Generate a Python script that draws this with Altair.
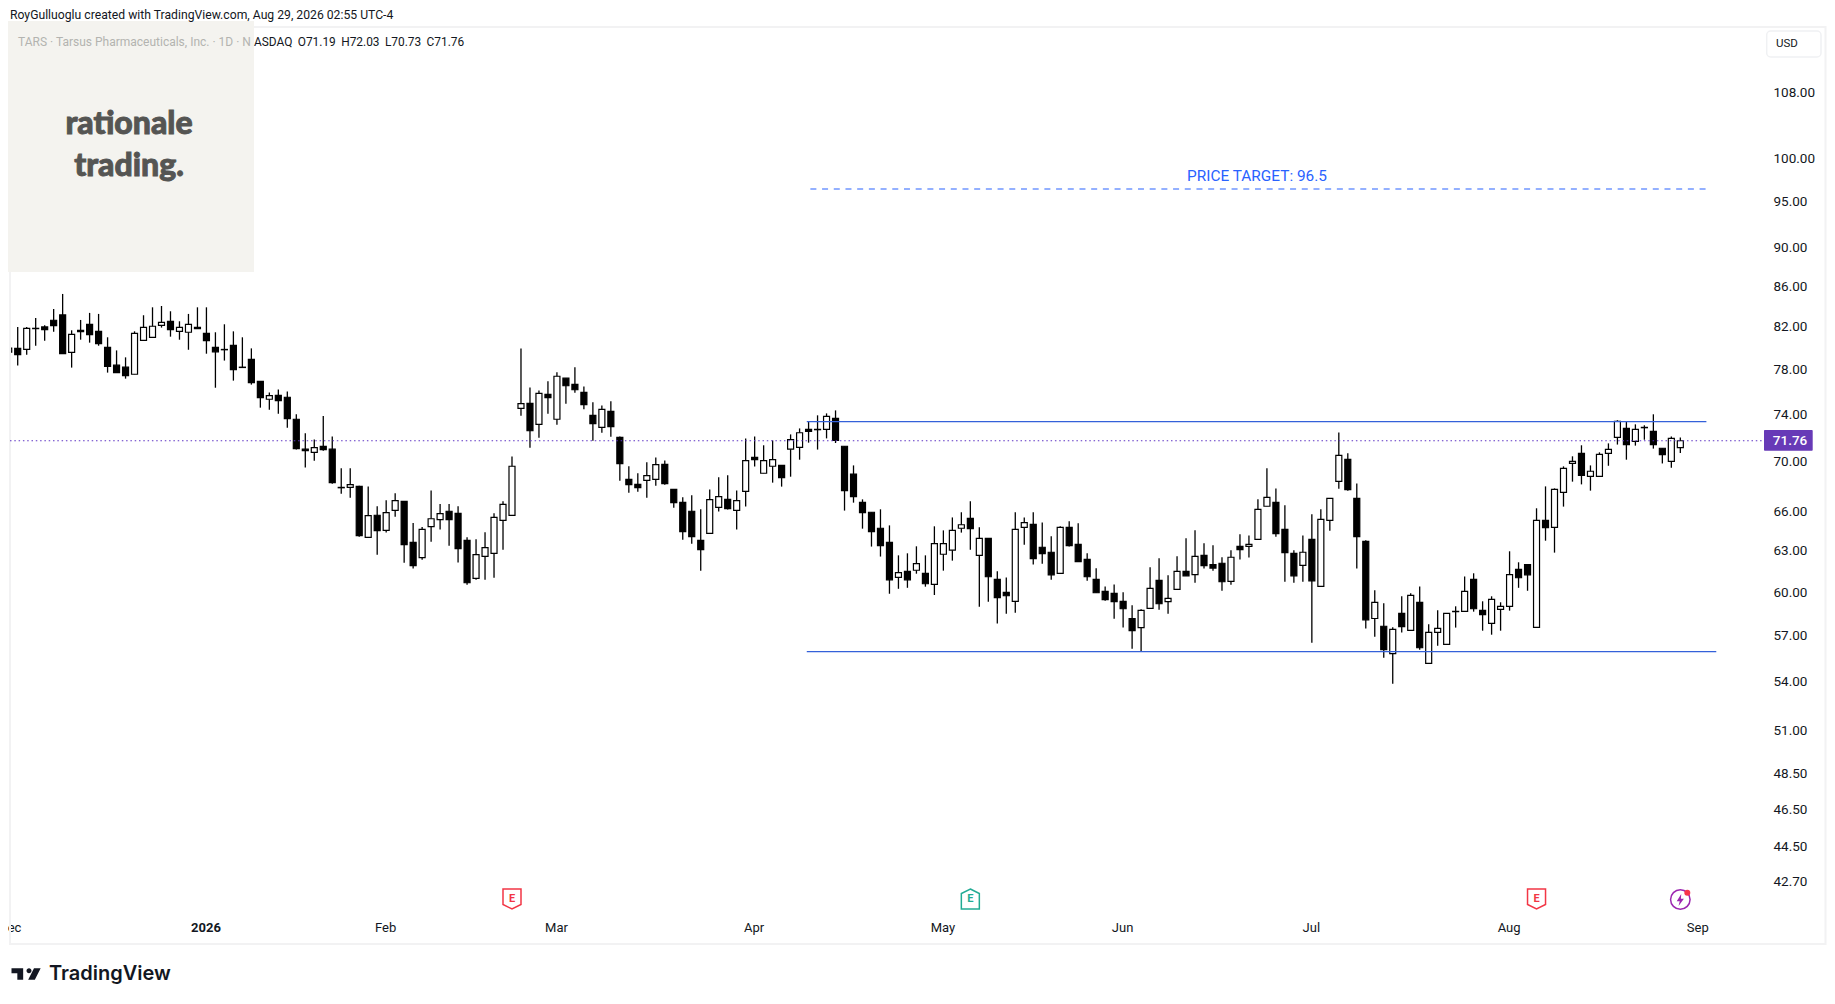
import altair as alt
import pandas as pd

sessions = list(range(-1, 186))
opens = [79.65,
 80.00,79.90,81.91,82.04,82.69,83.21,79.62,81.72,82.30,81.62,
 80.09,78.43,78.25,77.60,80.76,81.05,82.20,82.59,81.62,81.53,
 82.01,81.43,80.09,79.90,80.28,78.25,78.98,76.96,75.35,75.70,
 75.53,73.60,71.05,70.79,71.29,71.05,67.93,67.93,68.01,64.05,
 65.74,64.58,66.12,66.82,63.68,62.54,64.86,65.40,66.05,65.89,
 63.83,61.03,62.64,62.86,65.35,65.73,74.55,74.99,73.16,75.79,
 73.60,77.24,76.68,75.96,73.94,72.90,74.28,72.05,68.57,68.17,
 68.49,68.57,69.80,67.77,66.75,66.05,63.83,64.35,66.35,66.98,
 66.12,67.61,70.37,69.07,69.64,69.72,71.05,71.21,72.73,72.73,
 72.73,73.68,71.30,69.00,66.75,65.97,64.74,63.68,61.10,61.54,
 61.62,61.40,60.60,62.79,63.09,64.74,65.50,62.71,63.98,60.96,
 60.04,59.41,64.81,65.04,63.31,62.94,61.40,64.81,63.53,62.42,
 60.96,60.11,59.97,59.41,58.22,57.60,58.92,60.89,59.38,60.25,
 61.54,61.31,62.71,62.03,62.13,60.82,63.38,63.38,63.90,66.44,
 66.75,64.66,62.86,61.97,63.90,60.46,65.35,68.41,70.20,67.06,
 63.75,58.22,57.69,55.86,58.57,57.41,59.34,55.23,57.28,56.48,
 58.71,58.71,60.96,58.78,57.89,58.85,59.06,61.69,62.03,57.62,
 65.35,64.81,67.54,69.88,70.71,68.82,68.82,70.71,72.05,72.81,
 71.71,72.90,72.56,71.13,70.04,71.19]
highs = [80.10,
 82.04,82.04,82.92,82.20,83.80,85.29,81.72,82.72,83.41,83.31,
 81.05,79.81,79.16,81.62,83.18,83.96,84.09,83.57,82.59,83.31,
 83.96,83.96,81.53,82.30,81.62,81.05,80.00,76.96,75.96,76.23,
 76.05,74.03,72.39,71.87,73.88,72.13,69.47,69.47,68.07,68.01,
 66.43,66.90,67.46,66.82,65.14,64.84,67.69,66.62,66.62,66.44,
 64.05,63.90,64.43,65.89,66.83,70.45,80.00,76.41,76.14,76.96,
 77.79,77.24,78.25,76.50,75.08,74.81,75.17,72.13,69.64,69.07,
 69.96,70.37,70.12,67.77,67.14,67.30,66.20,67.77,68.74,68.90,
 67.69,71.96,72.13,71.38,71.79,69.72,72.30,72.81,73.39,73.94,
 74.11,74.37,71.30,69.71,66.98,65.97,66.20,64.96,62.71,62.86,
 63.38,62.71,64.89,64.58,65.57,65.97,66.83,64.81,63.98,61.54,
 61.10,65.97,65.57,65.97,65.19,64.13,64.89,65.27,65.12,62.86,
 61.76,60.46,60.60,60.04,59.13,58.85,61.83,62.50,61.25,62.64,
 63.98,64.58,63.60,63.45,62.57,63.09,64.28,64.20,66.98,69.47,
 67.85,66.51,63.09,64.20,65.81,66.20,67.06,72.46,70.71,68.25,
 63.83,60.18,59.27,57.62,59.76,59.97,60.46,57.82,58.78,58.57,
 59.06,61.17,61.40,59.41,59.76,59.34,63.01,62.20,62.03,66.28,
 68.01,67.85,69.63,70.46,71.38,69.71,70.79,71.54,73.51,73.42,
 73.16,73.08,74.03,71.13,72.13,72.03]
lows = [79.60,
 78.40,79.41,80.25,80.73,81.59,79.50,78.21,80.82,80.54,80.25,
 77.75,77.75,77.20,77.60,80.76,81.05,81.98,81.11,80.82,79.87,
 81.88,79.50,76.38,78.86,77.02,78.22,76.66,74.61,74.43,74.08,
 72.87,71.02,69.53,70.10,70.93,68.23,67.43,67.11,64.10,64.05,
 62.76,64.41,65.63,62.17,61.74,62.39,63.73,64.64,63.43,62.18,
 60.58,60.93,60.93,61.08,63.13,65.73,73.91,71.18,72.02,74.08,
 73.13,74.96,75.93,74.46,71.76,72.44,72.10,68.47,67.51,67.59,
 67.11,68.07,68.15,66.33,63.88,63.58,61.59,64.35,66.02,66.18,
 64.64,66.41,69.61,69.07,68.31,67.99,68.79,70.18,71.60,71.02,
 71.96,71.57,66.10,66.72,64.71,63.36,62.62,59.94,60.29,60.36,
 61.37,60.44,59.85,61.59,62.32,64.41,63.13,59.03,59.38,57.88,
 58.55,58.62,63.50,62.03,62.10,60.93,61.40,63.36,62.25,60.86,
 60.01,59.45,58.20,57.60,56.19,56.00,58.92,58.82,58.55,60.25,
 61.22,60.72,61.74,61.59,60.15,60.58,62.40,62.55,63.90,66.44,
 64.10,60.79,60.72,60.79,56.58,60.46,64.56,67.83,67.67,61.74,
 57.53,56.99,55.59,53.92,57.26,57.41,56.12,55.23,56.39,56.48,
 57.60,58.71,58.69,57.39,57.12,57.39,58.76,60.36,60.15,57.62,
 63.80,62.91,66.41,68.39,68.17,67.67,68.82,69.68,71.44,70.18,
 71.35,71.85,71.10,69.87,69.52,70.73]
closes = [80.03,
 79.41,81.91,81.88,81.78,82.17,79.50,81.33,81.59,81.30,80.44,
 78.31,77.75,77.48,81.43,82.01,82.11,82.49,81.78,82.01,82.30,
 81.88,80.73,79.68,79.87,78.03,78.22,76.84,75.50,75.67,75.23,
 73.65,71.10,70.93,71.18,71.02,68.31,67.90,68.15,64.18,65.71,
 64.56,65.95,66.88,63.50,61.96,64.66,65.47,65.87,65.40,63.21,
 60.72,62.76,63.28,65.58,66.59,69.64,74.96,72.61,75.88,75.49,
 77.42,76.56,76.20,74.87,73.22,74.46,72.96,69.85,68.15,67.91,
 68.87,69.77,68.23,66.72,64.48,64.10,63.13,66.96,67.19,66.25,
 66.88,70.10,70.18,70.10,70.18,68.71,71.85,72.44,72.56,72.70,
 73.85,71.79,67.67,67.20,65.94,64.48,63.43,60.93,61.45,60.93,
 62.10,60.65,63.58,63.58,64.58,65.01,64.71,63.98,61.15,59.66,
 59.80,64.66,65.17,62.47,62.84,61.29,64.81,63.43,62.25,61.15,
 60.01,59.52,59.38,58.89,57.39,58.78,60.32,59.24,59.62,61.54,
 61.22,62.64,61.95,61.78,60.79,62.57,63.13,63.53,66.20,67.14,
 64.33,62.91,61.22,62.94,60.86,65.42,67.06,70.54,67.75,64.10,
 58.13,59.34,56.12,57.48,57.66,59.83,56.25,57.28,57.55,58.57,
 58.69,60.11,58.89,58.48,59.55,59.06,61.31,61.08,61.29,65.35,
 64.79,67.77,69.47,70.04,68.90,69.23,70.62,71.04,73.42,71.44,
 72.73,72.87,71.44,70.60,71.96,71.76]

price_ticks = [108, 100, 95, 90, 86, 82, 78, 74, 70, 66, 63, 60, 57, 54, 51, 48.5, 46.5, 44.5, 42.7]
month_labels = ["ec", "2026", "Feb", "Mar", "Apr", "May", "Jun", "Jul", "Aug", "Sep"]
month_sessions = [-0.3, 21, 41, 60, 82, 103, 123, 144, 166, 187]

last_price = 71.76
target_price = 96.5
target_from, target_to = 88.2, 187.9
resist_price, resist_from, resist_to = 73.4, 87.8, 187.9
support_price, support_from, support_to = 56.0, 87.8, 189.0
earn_down_sessions = [55, 169]
earn_up_sessions = [106]
event_session = [185]

BLUE_LINE = "#3461d9"
FONT = "Roboto"
W, H = 1819, 988

df = pd.DataFrame({"s": sessions, "o": opens, "h": highs, "l": lows, "c": closes})
df["dir"] = ["up" if c >= o else "down" for o, c in zip(opens, closes)]

xs = alt.Scale(domain=[-2, 187], range=[-8.27, 1690.3], nice=False, zero=False, padding=0)
ys = alt.Scale(type="log", domain=[42.7, 108], range=[874, 85.3], nice=False, zero=False)
x_axis = alt.Axis(
    values=month_sessions, orient="bottom", offset=-75, domain=False, ticks=False, grid=False,
    title=None, labelPadding=0, labelFontSize=13, labelFont=FONT, labelColor="#131722",
    labelOverlap=False, labelFlush=False, labelBound=False, labelOffset=-1,
    labelFontWeight=alt.expr("datum.value == 21 ? 'bold' : 'normal'"),
    labelExpr="%s[indexof(%s, datum.value)]" % (month_labels, month_sessions),
)
y_axis = alt.Axis(
    values=price_ticks, orient="right", offset=-54, domain=False, ticks=False, grid=False,
    title=None, format=".2f", labelAlign="left", labelPadding=0, labelFontSize=13.5,
    labelFont=FONT, labelColor="#131722", labelOverlap=False, labelOffset=-0.5,
)
X = lambda f: alt.X(f, scale=xs, axis=x_axis)
Y = lambda f: alt.Y(f, scale=ys, axis=y_axis)

one = pd.DataFrame({"t": ["x"]})


def px(x):
    return alt.value(x - 8)


def py(y):
    return alt.value(y - 8)


def label(text, x, y, size=12, color="#131722", align="left", weight="normal", font=FONT, **kw):
    return alt.Chart(pd.DataFrame({"t": [text]})).mark_text(
        align=align, baseline="middle", fontSize=size, color=color, fontWeight=weight, font=font, **kw
    ).encode(x=px(x), y=py(y), text="t:N")


def box(x0, x1, y0, y1, **kw):
    return alt.Chart(one).mark_rect(**kw).encode(x=px(x0), x2=px(x1), y=py(y0), y2=py(y1))


def glyph(path, x, y, side, **kw):
    return alt.Chart(one).mark_point(shape=path, size=side * side, **kw).encode(x=px(x), y=py(y))


wicks = alt.Chart(df).mark_rule(color="#000", strokeWidth=1.3).encode(x=X("s:Q"), y=Y("l:Q"), y2="h:Q")
bodies = alt.Chart(df).mark_bar(size=6, stroke="#000", strokeWidth=1.2).encode(
    x=X("s:Q"),
    y=Y("o:Q"),
    y2="c:Q",
    color=alt.Color("dir:N", scale=alt.Scale(domain=["up", "down"], range=["#ffffff", "#000000"]), legend=None),
)

levels = pd.DataFrame({
    "p": [resist_price, support_price],
    "a": [resist_from, support_from],
    "b": [resist_to, support_to],
})
level_rules = alt.Chart(levels).mark_rule(color=BLUE_LINE, strokeWidth=1.2).encode(
    x=X("a:Q"), x2="b:Q", y=Y("p:Q")
)
target = pd.DataFrame({"p": [target_price], "a": [target_from], "b": [target_to]})
target_rule = alt.Chart(target).mark_rule(color="#2962ff", strokeWidth=1.2, strokeDash=[6, 5.7]).encode(
    x=X("a:Q"), x2="b:Q", y=Y("p:Q")
)
last_rule = alt.Chart(pd.DataFrame({"p": [last_price]})).mark_rule(
    color="#5e35c4", strokeWidth=1.2, strokeDash=[1.5, 2.8]
).encode(x=px(10), x2=px(1764), y=Y("p:Q"))

PENT_DOWN = "M-.9 -1H.9V.55L0 1L-.9 .55Z"
PENT_UP = "M0 -1L.9 -.55V1H-.9V-.55Z"


def earnings(sessions_, path, color):
    d = pd.DataFrame({"s": sessions_, "t": ["E"] * len(sessions_)})
    mark = alt.Chart(d).mark_point(
        shape=path, size=400, filled=False, stroke=color, strokeWidth=1.5, fill="#ffffff", fillOpacity=1, opacity=1
    ).encode(x=X("s:Q"), y=py(899))
    letter = alt.Chart(d).mark_text(
        fontSize=11, fontWeight="bold", color=color, font=FONT, align="center", baseline="middle"
    ).encode(x=X("s:Q"), y=py(898.5), text="t:N")
    return [mark, letter]


ev = pd.DataFrame({"s": event_session})
event_ring = alt.Chart(ev).mark_point(shape="circle", size=380, filled=False, stroke="#9c27b0", strokeWidth=1.5, opacity=1).encode(
    x=X("s:Q"), y=py(899.5)
)
event_bolt = alt.Chart(ev).mark_point(
    shape="M.15 -1L-.6 .2H-.1L-.3 1L.6 -.2H.1Z", size=144, filled=True, fill="#9c27b0", stroke=None, opacity=1
).encode(x=X("s:Q"), y=py(900))
event_dot = glyph("circle", 1687.3, 892.7, 6, filled=True, fill="#f7344b", stroke=None, opacity=1)

TV_ICON = (
    "M-1 -.389H-.222V.389H-.611V-.056H-1Z"
    "M.5 -.389H.944L.556 .389H.111Z"
    "M0 -.222a.167 .167 0 1 0 .334 0a.167 .167 0 1 0 -.334 0Z"
)
SP = "\u00a0\u2009"

layers = [
    wicks,
    bodies,
    box(0, 9, 300, 420, fill="#ffffff"),
    box(10, 1825.5, 27, 944, fill=None, stroke="#f2f2f3", strokeWidth=2),
    box(3.5, 254, 21, 272, fill="#f4f3ef"),
    label("TARS · Tarsus Pharmaceuticals, Inc. · 1D · N", 18, 41.7, 12, color="#b3b3b0"),
    label(f"ASDAQ{SP}O71.19{SP}H72.03{SP}L70.73{SP}C71.76", 254, 41.7, 11.9),
    label("RoyGulluoglu created with TradingView.com, Aug 29, 2026 02:55 UTC-4", 10, 15, 12.2),
    label("rationale", 129, 123.5, 32, color="#555553", align="center", weight=900, font="Lato", stroke="#555553", strokeWidth=0.9),
    label("trading.", 129, 166, 32, color="#555553", align="center", weight=900, font="Lato", stroke="#555553", strokeWidth=0.9),
    level_rules,
    target_rule,
    last_rule,
    label("PRICE TARGET: 96.5", 1257, 175.5, 15.4, color="#2962ff", align="center"),
    box(1766.7, 1821, 31, 57, fill="#ffffff", stroke="#f0f1f3", strokeWidth=1.5, cornerRadius=4),
    label("USD", 1776, 44, 11.5),
    box(1764, 1812.7, 430, 450.7, fill="#673ab7", cornerRadius=1),
    label("71.76", 1790, 440.7, 13.5, color="#ffffff", align="center", weight=500),
    *earnings(earn_down_sessions, PENT_DOWN, "#f23645"),
    *earnings(earn_up_sessions, PENT_UP, "#22ab94"),
    event_ring,
    event_bolt,
    event_dot,
    glyph(TV_ICON, 26.5, 974, 30, filled=True, fill="#131722", stroke=None, opacity=1),
    label("TradingView", 49, 974, 20, weight=600, font="Inter"),
]

chart = alt.layer(*layers).properties(
    width=W, height=H, padding=0,
    autosize=alt.AutoSizeParams(type="none"),
    background="#ffffff",
).configure_view(stroke=None)

chart.save("out.html", embed_options={"renderer": "svg", "actions": False})
